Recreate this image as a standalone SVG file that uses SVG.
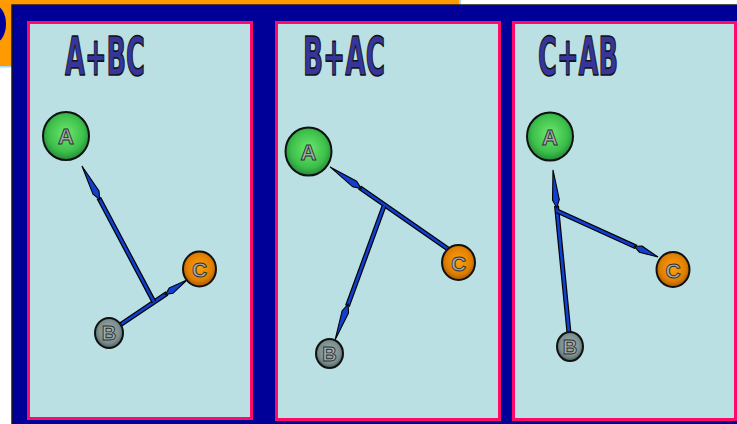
<svg xmlns="http://www.w3.org/2000/svg" width="737" height="424" viewBox="0 0 737 424">
  <style>
    .panel { fill: #bae0e3; stroke: #ff0a6a; stroke-width: 3; }
    .title { font-family: "DejaVu Sans", "Liberation Sans", sans-serif; font-weight: bold; font-size: 54px; fill: #35359a; stroke: #111; stroke-width: 1.6; stroke-linejoin: round; }
    .node { stroke: #111; stroke-width: 2; }
    .lbl { font-family: "Liberation Sans", "DejaVu Sans", sans-serif; font-weight: bold; fill: #a3acac; stroke: #2e2e2e; stroke-width: 0.9; text-anchor: middle; }
    .shaft-out { stroke: #000; stroke-width: 5; stroke-linecap: butt; fill: none; }
    .shaft { stroke: #1040d0; stroke-width: 2.6; stroke-linecap: butt; fill: none; }
  </style>
  <defs>
    <radialGradient id="gA" cx="0.5" cy="0.45" r="0.55">
      <stop offset="0" stop-color="#6ee86e"/>
      <stop offset="0.7" stop-color="#3cbf4a"/>
      <stop offset="1" stop-color="#24893a"/>
    </radialGradient>
    <radialGradient id="gC" cx="0.5" cy="0.45" r="0.55">
      <stop offset="0" stop-color="#ffa010"/>
      <stop offset="0.7" stop-color="#e07f00"/>
      <stop offset="1" stop-color="#a85a00"/>
    </radialGradient>
    <radialGradient id="gB" cx="0.5" cy="0.45" r="0.55">
      <stop offset="0" stop-color="#9fb2b2"/>
      <stop offset="0.7" stop-color="#7a8e8e"/>
      <stop offset="1" stop-color="#4e5e5e"/>
    </radialGradient>
    <!-- long, narrow harpoon-like arrowheads -->
    <marker id="headLong" markerUnits="userSpaceOnUse" viewBox="-3 0 42 12" refX="0" refY="6" markerWidth="42" markerHeight="12" orient="auto" overflow="visible">
      <path d="M-2,6 L6,2.6 L36,6 L6,9.4 Z" fill="#1040d0" stroke="#000" stroke-width="1.1" stroke-linejoin="miter"/>
    </marker>
    <marker id="headShort" markerUnits="userSpaceOnUse" viewBox="-3 0 30 12" refX="0" refY="6" markerWidth="30" markerHeight="12" orient="auto" overflow="visible">
      <path d="M-2,6 L5,2.7 L24,6 L5,9.3 Z" fill="#1040d0" stroke="#000" stroke-width="1.1" stroke-linejoin="miter"/>
    </marker>
  </defs>

  <!-- page background and top-left decoration -->
  <rect x="0" y="0" width="737" height="424" fill="#ffffff"/>
  <rect x="0" y="0" width="459" height="5" fill="#ff9a00"/>
  <rect x="459" y="0" width="2" height="5" fill="#a8d8f0"/>
  <rect x="0" y="0" width="12" height="66" fill="#ff9a00"/>
  <rect x="0" y="66" width="12" height="1.5" fill="#a8d8f0"/>
  <ellipse cx="-6" cy="24" rx="12" ry="19" fill="#000099"/>

  <!-- outer blue frame -->
  <rect x="12" y="5" width="730" height="424" fill="#000099" stroke="#1a1a1a" stroke-width="1.5"/>

  <!-- panels -->
  <g id="panel-1">
    <rect class="panel" x="28.5" y="22.5" width="223" height="396"/>
    <text class="title" x="65" y="75" textLength="80" lengthAdjust="spacingAndGlyphs">A+BC</text>
  </g>
  <g id="panel-2">
    <rect class="panel" x="276.5" y="22.5" width="223" height="397"/>
    <text class="title" x="303" y="75" textLength="82" lengthAdjust="spacingAndGlyphs">B+AC</text>
  </g>
  <g id="panel-3">
    <rect class="panel" x="513.5" y="22.5" width="222" height="397"/>
    <text class="title" x="538" y="75" textLength="80" lengthAdjust="spacingAndGlyphs">C+AB</text>
  </g>

  <!-- connectors -->
  <g id="connectors">
    <!-- panel 1 -->
    <line class="shaft-out" x1="120" y1="325" x2="167" y2="293.4"/>
    <line class="shaft" x1="120" y1="325" x2="167" y2="293.4" marker-end="url(#headShort)"/>
    <line class="shaft-out" x1="154" y1="302" x2="98.8" y2="197.8"/>
    <line class="shaft" x1="154" y1="302" x2="98.8" y2="197.8" marker-end="url(#headLong)"/>
    <!-- panel 2 -->
    <line class="shaft-out" x1="448" y1="249" x2="359.6" y2="187.5"/>
    <line class="shaft" x1="448" y1="249" x2="359.6" y2="187.5" marker-end="url(#headLong)"/>
    <line class="shaft-out" x1="384" y1="206" x2="347.4" y2="306.2"/>
    <line class="shaft" x1="384" y1="206" x2="347.4" y2="306.2" marker-end="url(#headLong)"/>
    <!-- panel 3 -->
    <line class="shaft-out" x1="569" y1="333" x2="556.5" y2="205.8"/>
    <line class="shaft" x1="569" y1="333" x2="556.5" y2="205.8" marker-end="url(#headLong)"/>
    <line class="shaft-out" x1="557" y1="211" x2="636.2" y2="247.1"/>
    <line class="shaft" x1="557" y1="211" x2="636.2" y2="247.1" marker-end="url(#headShort)"/>
  </g>

  <!-- nodes, panel 1 -->
  <g id="p1-A">
    <ellipse class="node" cx="66" cy="136" rx="23" ry="24" fill="url(#gA)"/>
    <text class="lbl" x="66" y="144" font-size="22">A</text>
  </g>
  <g id="p1-B">
    <ellipse class="node" cx="109" cy="333" rx="14" ry="15" fill="url(#gB)"/>
    <text class="lbl" x="109" y="340" font-size="20">B</text>
  </g>
  <g id="p1-C">
    <ellipse class="node" cx="199.5" cy="269" rx="16.5" ry="17.5" fill="url(#gC)"/>
    <text class="lbl" x="199.5" y="277" font-size="21">C</text>
  </g>

  <!-- nodes, panel 2 -->
  <g id="p2-A">
    <ellipse class="node" cx="308.5" cy="151.5" rx="23" ry="24" fill="url(#gA)"/>
    <text class="lbl" x="308.5" y="159.5" font-size="22">A</text>
  </g>
  <g id="p2-B">
    <ellipse class="node" cx="329.5" cy="353.5" rx="13.5" ry="14.5" fill="url(#gB)"/>
    <text class="lbl" x="329.5" y="360.5" font-size="20">B</text>
  </g>
  <g id="p2-C">
    <ellipse class="node" cx="458.5" cy="262.5" rx="16.5" ry="17.5" fill="url(#gC)"/>
    <text class="lbl" x="458.5" y="270.5" font-size="21">C</text>
  </g>

  <!-- nodes, panel 3 -->
  <g id="p3-A">
    <ellipse class="node" cx="550" cy="136.5" rx="23" ry="24" fill="url(#gA)"/>
    <text class="lbl" x="550" y="144.5" font-size="22">A</text>
  </g>
  <g id="p3-B">
    <ellipse class="node" cx="570" cy="346.5" rx="13" ry="14.5" fill="url(#gB)"/>
    <text class="lbl" x="570" y="353.5" font-size="20">B</text>
  </g>
  <g id="p3-C">
    <ellipse class="node" cx="673" cy="269.5" rx="16.5" ry="17.5" fill="url(#gC)"/>
    <text class="lbl" x="673" y="277.5" font-size="21">C</text>
  </g>
</svg>
